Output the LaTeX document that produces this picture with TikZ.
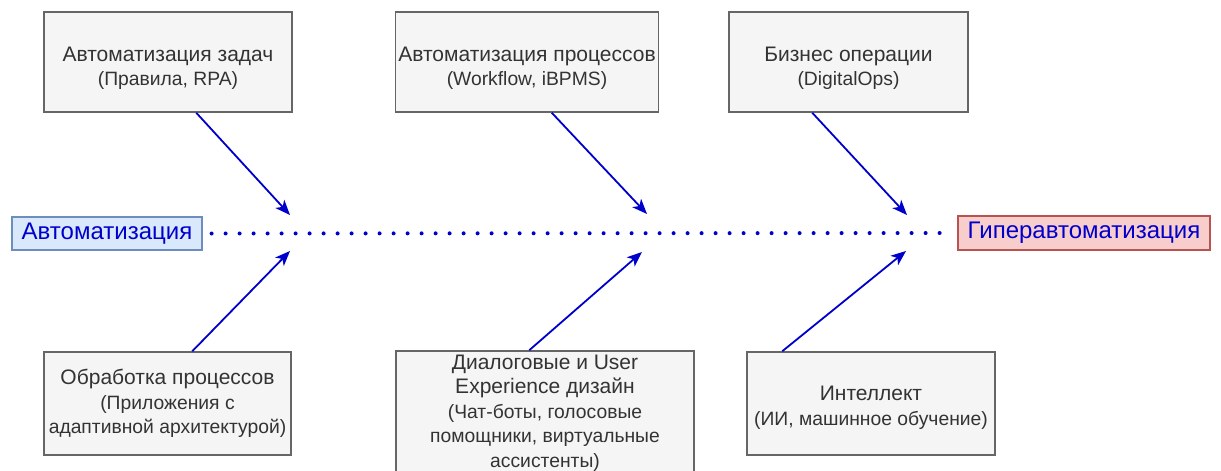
\documentclass[tikz,border=0pt]{standalone}
\usepackage{fontspec}
\setmainfont{Liberation Sans}
\usetikzlibrary{arrows.meta,calc}
\definecolor{boxfill}{HTML}{F5F5F5}
\definecolor{boxline}{HTML}{666666}
\definecolor{boxtext}{HTML}{333333}
\definecolor{bluefill}{HTML}{DAE8FC}
\definecolor{blueline}{HTML}{6C8EBF}
\definecolor{redfill}{HTML}{F8CECC}
\definecolor{redline}{HTML}{B85450}
\definecolor{flow}{HTML}{0000CC}
% smaller font for the bracketed detail lines
\newcommand\causesub{\fontsize{19.3}{24.5}\selectfont}
% taller first line, pushes the text block a little lower in its box
\newcommand\lowerstrut{\rule{0pt}{27pt}}
\tikzset{
  causebox/.style={draw=boxline, fill=boxfill, line width=1.5pt, text=boxtext,
    align=center, inner sep=0pt, font=\fontsize{21}{24.5}\selectfont},
  endbox/.style={line width=1.2pt, text=flow, inner sep=0pt,
    font=\fontsize{24}{28}\selectfont},
  feeder/.style={draw=flow, line width=1.8pt,
    -{Stealth[length=15pt,width=12pt,inset=4pt]}},
  spine/.style={draw=flow, line width=4pt, line cap=round,
    dash pattern=on 0pt off 14pt}
}
\begin{document}
\begin{tikzpicture}[x=1pt,y=-1pt]
  \useasboundingbox (0,0) rectangle (1221,471);
  \clip (0,0) rectangle (1221,471);
  \fill[white] (0,0) rectangle (1221,471);

  % start and end of the process
  \node[endbox, draw=blueline, fill=bluefill, minimum width=190pt, minimum height=33pt]
    (auto) at (107,233.5) {Автоматизация};
  \node[endbox, draw=redline, fill=redfill, minimum width=252pt, minimum height=34pt]
    (hyper) at (1084,233) {Гиперавтоматизация};

  % spine
  \draw[spine] ([xshift=9pt]auto.east) -- ([xshift=-6pt]hyper.west);

  % upper causes
  \node[causebox, minimum width=248pt, minimum height=100pt] (c1) at (168,62)
    {\lowerstrut Автоматизация задач\\\causesub (Правила, RPA)};
  \node[causebox, minimum width=263pt, minimum height=100pt] (c2) at (527,62)
    {\lowerstrut Автоматизация процессов\\\causesub (Workflow, iBPMS)};
  \node[causebox, minimum width=239pt, minimum height=100pt] (c3) at (848.5,62)
    {\lowerstrut Бизнес операции\\\causesub (DigitalOps)};

  % lower causes
  \node[causebox, minimum width=247pt, minimum height=103pt] (c4) at (167.5,403.5)
    {Обработка процессов\\\causesub (Приложения с\\\causesub адаптивной архитектурой)};
  \node[causebox, minimum width=298pt, minimum height=124pt] (c5) at (545,413)
    {Диалоговые и User\\Experience дизайн\\\causesub (Чат-боты, голосовые\\\causesub помощники, виртуальные\\\causesub ассистенты)};
  \node[causebox, minimum width=248pt, minimum height=103pt] (c6) at (871,403.5)
    {\rule{0pt}{23pt}Интеллект\\\causesub (ИИ, машинное обучение)};

  % arrow tips on the spine
  \coordinate (t1) at (290,215);
  \coordinate (t2) at (647,214);
  \coordinate (t3) at (907,215);
  \coordinate (t4) at (290,251);
  \coordinate (t5) at (642,252);
  \coordinate (t6) at (906,251);

  \draw[feeder] ([xshift=153pt]c1.south west) -- (t1);
  \draw[feeder] ([xshift=157pt]c2.south west) -- (t2);
  \draw[feeder] ([xshift=84pt]c3.south west) -- (t3);
  \draw[feeder] ([xshift=149pt]c4.north west) -- (t4);
  \draw[feeder] ([xshift=134pt]c5.north west) -- (t5);
  \draw[feeder] ([xshift=36pt]c6.north west) -- (t6);
\end{tikzpicture}
\end{document}
